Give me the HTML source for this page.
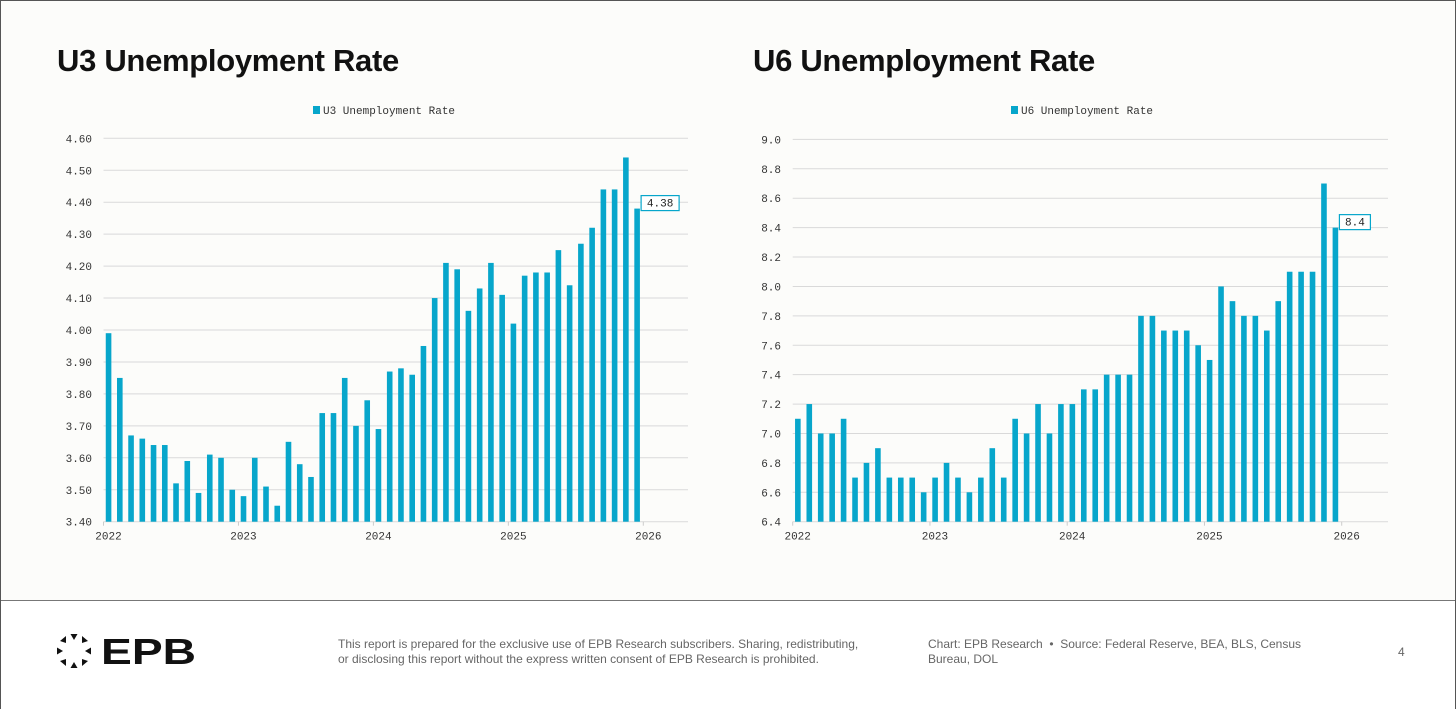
<!DOCTYPE html>
<html><head><meta charset="utf-8">
<style>
html,body{margin:0;padding:0;background:#fff;}
body{width:1456px;height:709px;overflow:hidden;font-family:"Liberation Sans",sans-serif;}
#frame{position:absolute;left:0;top:0;width:1454px;height:707px;border:1px solid #555;background:#fcfcfa;}
#footer{position:absolute;left:1px;top:600px;width:1454px;height:108px;background:#fff;border-top:1.5px solid #777;}
.title{position:absolute;top:43px;font-size:31px;font-weight:bold;color:#111;letter-spacing:-0.3px;}
.ft{position:absolute;font-size:12px;color:#666;line-height:15px;}
svg text{font-family:"Liberation Mono",monospace;}
</style></head>
<body>
<div id="frame"></div>
<div class="title" style="left:57px">U3 Unemployment Rate</div>
<div class="title" style="left:753px">U6 Unemployment Rate</div>
<svg id="charts" width="1456" height="600" style="position:absolute;left:0;top:0"></svg>
<div id="footer">
  <svg style="position:absolute;left:55px;top:28px" width="150" height="44">
    <g fill="#111" transform="translate(18,22)">
      <polygon points="-3.5,-17 3.5,-17 0,-11"/><polygon points="8,-15 14,-10 8,-8"/>
      <polygon points="17,-3.5 17,3.5 11,0"/><polygon points="14,10 8,15 8,8"/>
      <polygon points="3.5,17 -3.5,17 0,11"/><polygon points="-8,15 -14,10 -8,8"/>
      <polygon points="-17,3.5 -17,-3.5 -11,0"/><polygon points="-14,-10 -8,-15 -8,-8"/>
    </g>
    <text x="45" y="35" font-weight="bold" font-size="36" fill="#111" textLength="95" lengthAdjust="spacingAndGlyphs" style="font-family:'Liberation Sans',sans-serif">EPB</text>
  </svg>
  <div class="ft" style="left:337px;top:36px;width:525px">This report is prepared for the exclusive use of EPB Research subscribers. Sharing, redistributing, or disclosing this report without the express written consent of EPB Research is prohibited.</div>
  <div class="ft" style="left:927px;top:36px;width:390px">Chart: EPB Research &nbsp;•&nbsp; Source: Federal Reserve, BEA, BLS, Census Bureau, DOL</div>
  <div class="ft" style="left:1397px;top:44px">4</div>
</div>
<script>
const years=["2022","2023","2024","2025","2026"];
const u3Ticks=["3.40","3.50","3.60","3.70","3.80","3.90","4.00","4.10","4.20","4.30","4.40","4.50","4.60"];
const u6Ticks=["6.4","6.6","6.8","7.0","7.2","7.4","7.6","7.8","8.0","8.2","8.4","8.6","8.8","9.0"];
const u3Values=[3.99,3.85,3.67,3.66,3.64,3.64,3.52,3.59,3.49,3.61,3.60,3.50,
3.48,3.60,3.51,3.45,3.65,3.58,3.54,3.74,3.74,3.85,3.70,3.78,
3.69,3.87,3.88,3.86,3.95,4.10,4.21,4.19,4.06,4.13,4.21,4.11,
4.02,4.17,4.18,4.18,4.25,4.14,4.27,4.32,4.44,4.44,4.54,4.38];
const u6Values=[7.1,7.2,7.0,7.0,7.1,6.7,6.8,6.9,6.7,6.7,6.7,6.6,
6.7,6.8,6.7,6.6,6.7,6.9,6.7,7.1,7.0,7.2,7.0,7.2,
7.2,7.3,7.3,7.4,7.4,7.4,7.8,7.8,7.7,7.7,7.7,7.6,
7.5,8.0,7.9,7.8,7.8,7.7,7.9,8.1,8.1,8.1,8.7,8.4];
const u3Last="4.38", u6Last="8.4";
const NS="http://www.w3.org/2000/svg";
const svg=document.getElementById('charts');
function mk(tag,attrs,parent){const e=document.createElementNS(NS,tag);for(const k in attrs)e.setAttribute(k,attrs[k]);(parent||svg).appendChild(e);return e;}
function chart(o){
  const g=mk('g',{});
  
  
  const ymin=parseFloat(o.ticks[0]),ymax=parseFloat(o.ticks[o.ticks.length-1]);
  const y=v=>o.bottom-(v-ymin)/(ymax-ymin)*(o.bottom-o.top);
  const month=(o.x2026-o.x0)/48;
  const x=i=>o.x0+(i+0.45)*month;
  const lr=mk('rect',{x:o.legX,y:106,width:7,height:8,fill:'#07a6cb'},g);
  
  
  const lt=mk('text',{x:o.legX+10,y:114,'font-size':'11',fill:'#333'},g);lt.textContent=o.label;
  
  
  o.ticks.forEach(t=>{
    const v=parseFloat(t);
    const gl=mk('line',{x1:o.x0,x2:o.right,y1:y(v),y2:y(v),stroke:'#d9d9d9','stroke-width':1},g);
    
    
    const tx=mk('text',{x:o.labX,y:y(v)+4,'font-size':'11',fill:'#333','text-anchor':'end'},g);tx.textContent=t;
    
    
  });
  years.forEach((yr,k)=>{
    const xx=o.x0+k*12*month;
    mk('line',{x1:xx,x2:xx,y1:o.bottom,y2:o.bottom+4,stroke:'#ccc'},g);
    const tx=mk('text',{x:xx+5,y:o.bottom+18,'font-size':'11',fill:'#333','text-anchor':'middle'},g);tx.textContent=yr;
    
    
  });
  o.values.forEach((v,i)=>{
    const b=mk('rect',{x:x(i)-2.8,y:y(v),width:5.6,height:o.bottom-y(v),fill:'#07a6cb'},g);
    
    
  });
  const li=o.values.length-1,lv=o.values[li];
  const w=o.last.length*7+10;
  const bx=mk('rect',{x:x(li)+4,y:y(lv)-13,width:w,height:15,fill:'#fff',stroke:'#07a6cb','stroke-width':1.2},g);
  
  
  const bt=mk('text',{x:x(li)+4+w/2,y:y(lv)-2,'font-size':'11',fill:'#222','text-anchor':'middle'},g);bt.textContent=o.last;
  
  
}
chart({name:'u3-chart',label:'U3 Unemployment Rate',ticks:u3Ticks,values:u3Values,last:u3Last,x0:103.5,x2026:643.3,right:688,top:138.3,bottom:521.7,labX:92,legX:313});
chart({name:'u6-chart',label:'U6 Unemployment Rate',ticks:u6Ticks,values:u6Values,last:u6Last,x0:792.7,x2026:1341.7,right:1388,top:139.4,bottom:521.7,labX:781,legX:1011});
</script>
</body></html>
